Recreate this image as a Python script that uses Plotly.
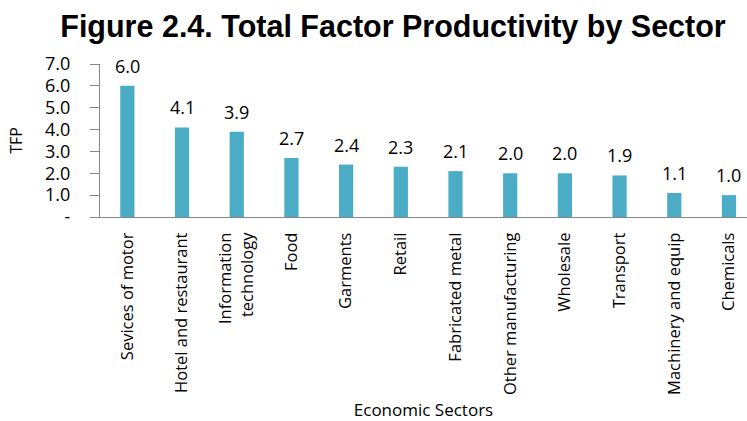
import plotly.graph_objects as go

sectors = [
    "Sevices of motor", "Hotel and restaurant", "Information<br>technology", "Food",
    "Garments", "Retail", "Fabricated metal", "Other manufacturing",
    "Wholesale", "Transport", "Machinery and equip", "Chemicals",
]
tfp = [6.0, 4.1, 3.9, 2.7, 2.4, 2.3, 2.1, 2.0, 2.0, 1.9, 1.1, 1.0]

y_ticks = [0, 1, 2, 3, 4, 5, 6, 7]
y_tick_text = ["-", "1.0", "2.0", "3.0", "4.0", "5.0", "6.0", "7.0"]

BAR_COLOR = "#4BACC6"
AXIS_COLOR = "#868686"
BODY_FONT = "'Open Sans', Lato, sans-serif"

xpos = list(range(len(sectors)))

fig = go.Figure(
    go.Bar(
        x=xpos,
        y=tfp,
        width=0.26,
        marker=dict(color=BAR_COLOR, line=dict(width=0)),
        hoverinfo="x+y",
    )
)

# value labels sitting a little above each bar
for xi, v in zip(xpos, tfp):
    fig.add_annotation(
        x=xi, y=v, text=f"{v:.1f}",
        showarrow=False, xanchor="center", yanchor="middle", yshift=20,
        font=dict(family=BODY_FONT, size=18, color="#000000"),
    )

fig.update_layout(
    width=747,
    height=421,
    margin=dict(l=100, r=0, t=64, b=204),
    paper_bgcolor="white",
    plot_bgcolor="white",
    showlegend=False,
    title=dict(
        text="<b>Figure 2.4. Total Factor Productivity by Sector</b>",
        font=dict(family="Liberation Sans, Arial, sans-serif", size=30.5, color="#000000"),
        x=393 / 747,
        xanchor="center",
        y=1 - 26 / 421,
        yanchor="middle",
    ),
    font=dict(family=BODY_FONT, color="#000000"),
)

fig.update_xaxes(
    tickmode="array",
    tickvals=xpos,
    ticktext=sectors,
    tickangle=-90,
    range=[-0.5, 11.33],
    showline=True,
    linecolor=AXIS_COLOR,
    linewidth=1,
    ticks="",
    ticklabelstandoff=8,
    tickfont=dict(family=BODY_FONT, size=16.5, color="#000000"),
    showgrid=False,
    zeroline=False,
    title=dict(text="Economic Sectors", font=dict(family=BODY_FONT, size=17, color="#000000"), standoff=10),
)

fig.update_yaxes(
    range=[0, 7],
    tickmode="array",
    tickvals=y_ticks,
    ticktext=y_tick_text,
    showline=True,
    linecolor=AXIS_COLOR,
    linewidth=1,
    ticks="outside",
    ticklen=9,
    tickcolor=AXIS_COLOR,
    tickfont=dict(family=BODY_FONT, size=18, color="#000000"),
    ticklabelstandoff=16,
    showgrid=False,
    zeroline=False,
    title=dict(text="TFP", font=dict(family=BODY_FONT, size=16, color="#000000"), standoff=18),
)

fig.write_html("out.html")
